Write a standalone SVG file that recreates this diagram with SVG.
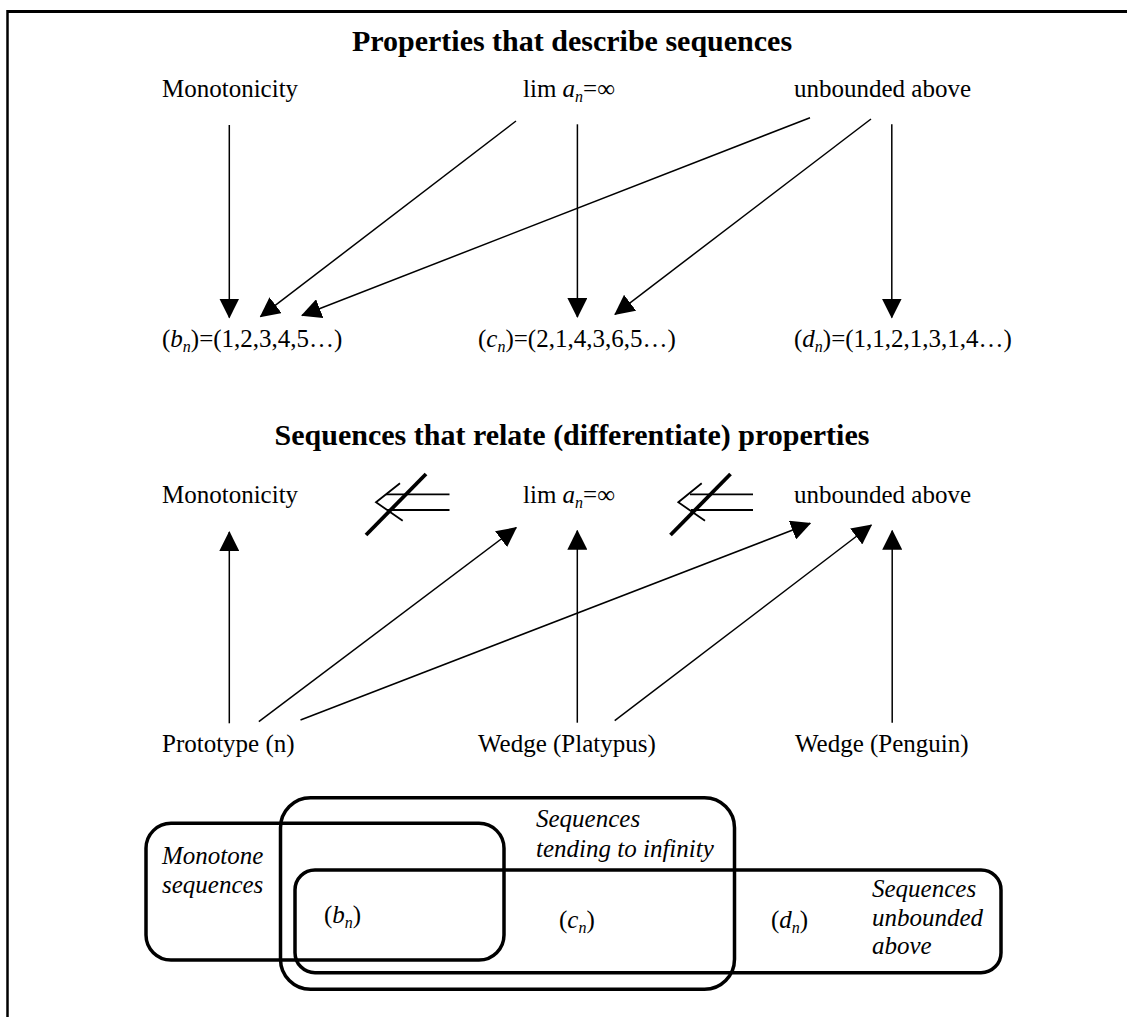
<svg xmlns="http://www.w3.org/2000/svg" width="1127" height="1017" viewBox="0 0 1127 1017">
<style>
text{font-family:"Liberation Serif","Times New Roman",serif;font-size:25px;fill:#000}
.title{font-size:30px;font-weight:bold;text-anchor:middle}
.it{font-style:italic}
.sub{font-size:16px;font-style:italic}
.conn line{stroke:#000;stroke-width:1.5;marker-end:url(#ah)}
.set{fill:none;stroke:#000;stroke-width:3.5}
.ni line,.ni polyline{stroke:#000;stroke-width:1.8;fill:none}
.ni .slash{stroke-width:3.8}
</style>
<defs>
<marker id="ah" markerUnits="userSpaceOnUse" markerWidth="20" markerHeight="20" refX="19" refY="10" orient="auto">
<path d="M0,0 L20,10 L0,20 z" fill="#000"/>
</marker>
</defs>
<rect width="1127" height="1017" fill="#fff"/>
<!-- frame -->
<line x1="7" y1="11.5" x2="1127" y2="11.5" stroke="#000" stroke-width="3"/>
<line x1="7.5" y1="10" x2="7.5" y2="1017" stroke="#000" stroke-width="2.5"/>

<text class="title" x="572" y="50.5">Properties that describe sequences</text>
<text class="title" x="572" y="445">Sequences that relate (differentiate) properties</text>

<g id="p1-monotonicity"><text x="162" y="97">Monotonicity</text></g>
<g id="p1-lim"><text x="523" y="97">lim <tspan class="it">a</tspan><tspan class="sub" dy="5">n</tspan><tspan dy="-5">=∞</tspan></text></g>
<g id="p1-unbounded"><text x="794" y="97">unbounded above</text></g>

<g id="seq-b"><text x="162" y="347">(<tspan class="it">b</tspan><tspan class="sub" dy="5">n</tspan><tspan dy="-5">)=(1,2,3,4,5…)</tspan></text></g>
<g id="seq-c"><text x="478" y="347">(<tspan class="it">c</tspan><tspan class="sub" dy="5">n</tspan><tspan dy="-5">)=(2,1,4,3,6,5…)</tspan></text></g>
<g id="seq-d"><text x="794" y="347">(<tspan class="it">d</tspan><tspan class="sub" dy="5">n</tspan><tspan dy="-5">)=(1,1,2,1,3,1,4…)</tspan></text></g>

<g id="p2-monotonicity"><text x="162" y="503">Monotonicity</text></g>
<g id="p2-lim"><text x="523" y="503">lim <tspan class="it">a</tspan><tspan class="sub" dy="5">n</tspan><tspan dy="-5">=∞</tspan></text></g>
<g id="p2-unbounded"><text x="794" y="503">unbounded above</text></g>

<g id="not-implies-1" class="ni">
<line x1="386" y1="494.3" x2="449.5" y2="494.3"/>
<line x1="387" y1="510" x2="449.5" y2="510"/>
<polyline points="400,483.3 376,502.3 402.7,520.7"/>
<line class="slash" x1="366" y1="535" x2="426" y2="474"/>
</g>
<g id="not-implies-2" class="ni">
<line x1="690" y1="494.3" x2="753" y2="494.3"/>
<line x1="691" y1="510" x2="753" y2="510"/>
<polyline points="701.7,483.3 678.3,502.3 705,520.7"/>
<line class="slash" x1="670.5" y1="535" x2="730.5" y2="474"/>
</g>

<g id="ex-prototype"><text x="162" y="752">Prototype (n)</text></g>
<g id="ex-platypus"><text x="478" y="752">Wedge (Platypus)</text></g>
<g id="ex-penguin"><text x="795" y="752">Wedge (Penguin)</text></g>

<g id="connectors" class="conn">
<line x1="229.3" y1="125" x2="229.3" y2="317.5"/>
<line x1="516" y1="121" x2="260.5" y2="316.7"/>
<line x1="577.4" y1="124.3" x2="577.4" y2="317"/>
<line x1="810" y1="117.7" x2="302" y2="315.5"/>
<line x1="871" y1="119" x2="615" y2="314.3"/>
<line x1="891.8" y1="124.3" x2="891.8" y2="317.5"/>
<line x1="229.3" y1="723.3" x2="229.3" y2="532"/>
<line x1="258.8" y1="721.7" x2="516.2" y2="527.7"/>
<line x1="300.5" y1="720" x2="810.2" y2="523.3"/>
<line x1="577.3" y1="722.7" x2="577.3" y2="530.7"/>
<line x1="614.7" y1="720.7" x2="871.3" y2="525"/>
<line x1="892.2" y1="722.7" x2="892.2" y2="530.7"/>
</g>

<g id="set-infinity">
<rect class="set" x="280.5" y="797.7" width="454" height="191.6" rx="30"/>
<text class="it" x="536" y="827">Sequences</text>
<text class="it" x="536" y="857">tending to infinity</text>
</g>
<g id="set-monotone">
<rect class="set" x="146" y="823.3" width="358" height="136.7" rx="25"/>
<text class="it" x="162" y="864">Monotone</text>
<text class="it" x="162" y="893">sequences</text>
</g>
<g id="set-unbounded">
<rect class="set" x="295" y="870" width="706" height="102.7" rx="20"/>
<text class="it" x="872" y="897">Sequences</text>
<text class="it" x="872" y="926">unbounded</text>
<text class="it" x="872" y="954">above</text>
</g>
<g id="venn-b"><text x="324" y="923">(<tspan class="it">b</tspan><tspan class="sub" dy="5">n</tspan><tspan dy="-5">)</tspan></text></g>
<g id="venn-c"><text x="559" y="928">(<tspan class="it">c</tspan><tspan class="sub" dy="5">n</tspan><tspan dy="-5">)</tspan></text></g>
<g id="venn-d"><text x="771" y="928">(<tspan class="it">d</tspan><tspan class="sub" dy="5">n</tspan><tspan dy="-5">)</tspan></text></g>
</svg>
